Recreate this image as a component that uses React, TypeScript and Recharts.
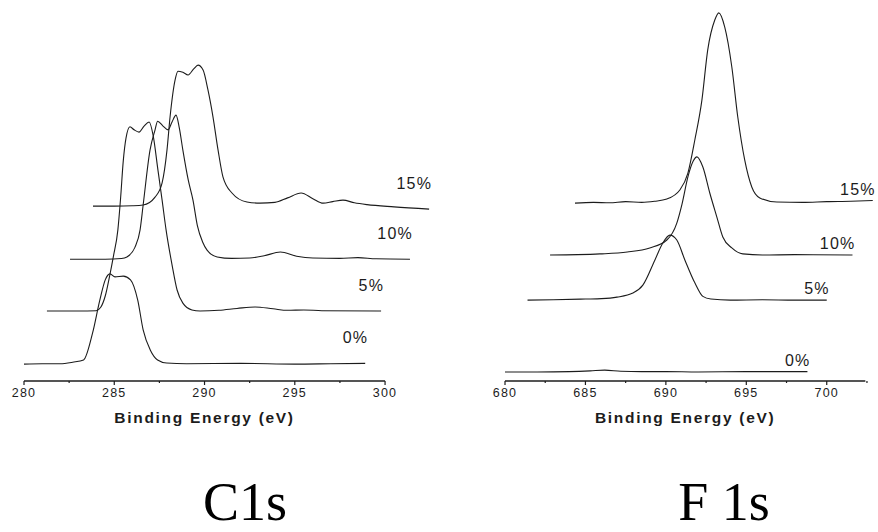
import { Line, LineChart, ReferenceLine, XAxis, YAxis } from "recharts";

const INK = "#1c1c1c";
const SANS = "'Liberation Sans', Arial, sans-serif";
const SERIF = "'Liberation Serif', 'Times New Roman', serif";

const LEVELS = ["0%", "5%", "10%", "15%"];

// C 1s traces: [binding energy (eV) as drawn, intensity above the trace's own baseline]
const C1S_0 = [
  [280.0, 0], [281.0, 0.1], [282.0, 0.1], [282.7, 0.5], [283.3, 1.1], [283.8, 8.3], [284.2, 17],
  [284.5, 22.4], [284.76, 24], [285.04, 23.2], [285.5, 23.4], [285.9, 22.4], [286.3, 17], [286.6, 9.1],
  [287.0, 3.7], [287.4, 1.1], [287.9, 0.3], [289.0, 0.1], [292.0, 0.2], [295.0, 0], [297.0, 0.1], [298.9, 0.2],
];
const C1S_5 = [
  [281.27, 0], [283.0, 0], [284.0, 0.1], [284.25, 1.0], [284.5, 4], [284.75, 9.5], [284.95, 14.5],
  [285.2, 21.6], [285.35, 30], [285.5, 40], [285.65, 46], [285.87, 49], [286.1, 48.2], [286.37, 47.6],
  [286.65, 49.2], [286.93, 50.3], [287.15, 46.8], [287.42, 37.5], [287.65, 29.5], [287.87, 21.6],
  [288.2, 12.3], [288.48, 5.6], [288.8, 2.1], [289.3, 0.3], [289.75, 0], [290.8, 0.2], [291.8, 0.7],
  [292.8, 1.1], [293.8, 0.6], [294.6, 0.2], [295.5, 0.3], [296.5, 0.1], [299.78, 0],
];
const C1S_10 = [
  [282.55, 0], [284.5, 0], [285.4, 0.2], [285.7, 0.6], [286.15, 3.2], [286.43, 7.8], [286.6, 14.4],
  [286.98, 29.0], [287.26, 34.4], [287.4, 36.7], [287.7, 35.4], [287.98, 34.4], [288.2, 36.5],
  [288.42, 38.3], [288.6, 35], [288.8, 29.0], [289.1, 21], [289.36, 15.7], [289.6, 9], [289.9, 4.5],
  [290.14, 2.4], [290.7, 0.6], [291.5, 0.2], [292.5, 0.3], [293.3, 0.9], [294.2, 1.9], [295.1, 0.8],
  [296.0, 0.3], [297.5, 0.2], [298.5, 0.4], [299.5, 0.1], [301.38, 0],
];
const C1S_15 = [
  [283.82, 0], [285.0, 0], [286.0, 0.1], [286.6, 0.3], [287.26, 2.4], [287.65, 6.2], [287.92, 14.9],
  [288.09, 23.7], [288.37, 33.6], [288.53, 35.9], [288.8, 35.6], [289.09, 34.9], [289.4, 36.5],
  [289.64, 37.5], [289.92, 36.2], [290.19, 30.9], [290.47, 23.7], [290.75, 14.9], [291.02, 7.8],
  [291.52, 3.5], [292.35, 1.1], [293.07, 0.8], [293.9, 1.0], [294.6, 2.2], [295.35, 3.5], [296.0, 2.0],
  [296.57, 0.8], [297.1, 1.2], [297.67, 1.6], [298.3, 0.9], [299.0, 0.4], [300.5, -0.2], [302.44, -0.8],
];
const C1S_OFFSET = [4.5, 18.6, 32.4, 46.5];
const C1S_TICKS = [280, 282.5, 285, 287.5, 290, 292.5, 295, 297.5, 300];

// F 1s traces
const F1S_0 = [
  [680.0, 0], [682.0, 0], [684.0, 0.1], [685.3, 0.3], [686.2, 0.5], [687.2, 0.2], [688.5, 0.1],
  [690.0, 0.1], [692.0, 0], [695.0, 0.1], [698.8, 0.1],
];
const F1S_5 = [
  [681.4, 0], [683.0, 0.1], [685.0, 0.3], [686.0, 0.4], [686.96, 0.8], [687.95, 1.9], [688.57, 4.0],
  [689.32, 10.7], [689.81, 15.2], [690.25, 17.3], [690.68, 16.0], [691.18, 10.7], [691.8, 4.6],
  [692.3, 1.0], [692.8, 0.3], [694.0, 0], [696.0, 0.1], [698.0, 0], [700.0, 0],
];
const F1S_10 = [
  [682.8, 0], [684.5, 0.1], [685.9, 0.3], [687.6, 0.8], [689.0, 1.9], [690.06, 4.0], [690.68, 8.5],
  [691.0, 13.5], [691.37, 20.8], [691.7, 25], [691.93, 26.1], [692.3, 23.4], [692.73, 16.5],
  [693.17, 10.1], [693.54, 4.8], [694.1, 1.9], [694.78, 0.3], [696.0, 0], [698.0, 0.1], [701.6, 0],
];
const F1S_15 = [
  [684.35, 0], [685.5, 0.2], [686.5, 0.1], [687.5, 0.4], [688.5, 0.2], [689.3, 0.5], [690.06, 1.1],
  [690.87, 3.5], [691.37, 8.0], [691.8, 16.8], [692.24, 27.4], [692.6, 40.7], [693.04, 48.7],
  [693.29, 50.6], [693.66, 46.8], [694.1, 36.2], [694.47, 22.9], [694.9, 11.5], [695.34, 4.3],
  [695.84, 1.4], [696.9, 0.3], [698.5, 0.2], [700.0, 0.4], [701.5, 0.5], [702.86, 0.7],
];
const F1S_OFFSET = [2.4, 21.5, 33.5, 47.3];
const F1S_TICKS = [680, 682.5, 685, 687.5, 690, 692.5, 695, 697.5, 700, 702.5];

function stack(traces: number[][][], offsets: number[]) {
  return traces.map((pts, i) => pts.map(([e, v]) => ({ e, y: offsets[i] + v })));
}

function EnergyTick({ x, y, payload }: any) {
  const major = payload.value % 5 === 0;
  return (
    <g>
      <line x1={x} x2={x} y1={y} y2={y + (major ? 4 : 2)} stroke={INK} strokeWidth={1.2} />
      {major && (
        <text x={x} y={y + 16} textAnchor="middle" fontSize={12.5} letterSpacing={1.2} fill={INK} fontFamily={SANS}>
          {payload.value}
        </text>
      )}
    </g>
  );
}

type PanelProps = {
  traces: { e: number; y: number }[][];
  domain: [number, number];
  axisEnd: number;
  ticks: number[];
  lift: number;
  width: number;
  left: number;
  right: number;
};

function Panel({ traces, domain, axisEnd, ticks, lift, width, left, right }: PanelProps) {
  return (
    <LineChart width={width} height={440} margin={{ top: 5, right, bottom: 19, left }}>
      <XAxis
        type="number"
        dataKey="e"
        domain={domain}
        ticks={ticks}
        interval={0}
        allowDataOverflow
        axisLine={false}
        tickLine={false}
        tickSize={0}
        tickMargin={0}
        height={40}
        tick={<EnergyTick />}
      />
      <YAxis hide domain={[0, 100]} allowDataOverflow />
      <ReferenceLine
        segment={[{ x: domain[0], y: 0 }, { x: axisEnd, y: 0 }]}
        stroke={INK}
        strokeWidth={1.5}
        label={{
          position: "bottom",
          content: ({ viewBox }: any) => (
            <text
              x={viewBox.x + viewBox.width / 2}
              y={viewBox.y + 42}
              textAnchor="middle"
              fontSize={15.5}
              fontWeight="bold"
              letterSpacing={1.7}
              fill={INK}
              fontFamily={SANS}
            >
              Binding Energy (eV)
            </text>
          ),
        }}
      />
      {traces.map((data, i) => (
        <Line
          key={LEVELS[i]}
          data={data}
          dataKey="y"
          type="monotone"
          stroke={INK}
          strokeWidth={1.1}
          dot={false}
          isAnimationActive={false}
          label={(p: any) =>
            p.index === data.length - 1 ? (
              <text x={p.x + 3} y={p.y - lift + 5} textAnchor="end" fontSize={16} letterSpacing={1.2} fill={INK} fontFamily={SANS}>
                {LEVELS[i]}
              </text>
            ) : null
          }
        />
      ))}
    </LineChart>
  );
}

export default function App() {
  const c1s = stack([C1S_0, C1S_5, C1S_10, C1S_15], C1S_OFFSET);
  const f1s = stack([F1S_0, F1S_5, F1S_10, F1S_15], F1S_OFFSET);
  return (
    <div style={{ position: "absolute", left: 0, top: 0, width: 878, height: 532, background: "#fff" }}>
      <div style={{ position: "absolute", left: 0, top: 0 }}>
        <Panel traces={c1s} domain={[280, 302.6]} axisEnd={300} ticks={C1S_TICKS} lift={25} width={440} left={24} right={8} />
      </div>
      <div style={{ position: "absolute", left: 440, top: 0 }}>
        <Panel traces={f1s} domain={[680, 703]} axisEnd={702.4} ticks={F1S_TICKS} lift={11} width={438} left={65} right={3} />
      </div>
      <svg width={878} height={532} style={{ position: "absolute", left: 0, top: 0, pointerEvents: "none" }}>
        <text x={245} y={520} textAnchor="middle" fontSize={54} fontFamily={SERIF} fill="#000">
          C1s
        </text>
        <text x={724} y={520} textAnchor="middle" fontSize={54} fontFamily={SERIF} fill="#000">
          F 1s
        </text>
      </svg>
    </div>
  );
}
